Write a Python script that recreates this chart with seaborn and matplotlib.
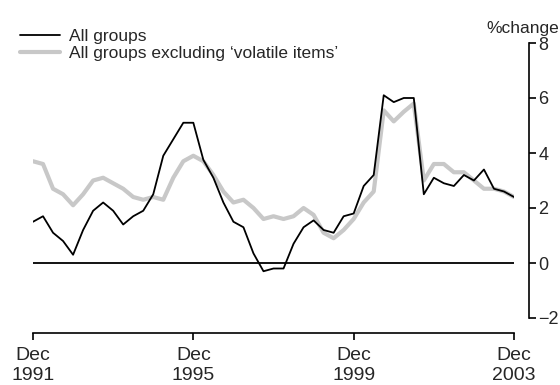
import pandas as pd
import matplotlib.pyplot as plt
import seaborn as sns

# quarterly % change, Dec 1991 .. Dec 2003
QUARTERS = pd.period_range("1991Q4", "2003Q4", freq="Q")
ALL_GROUPS = [1.5, 1.7, 1.1, 0.8, 0.3, 1.2, 1.9, 2.2, 1.9, 1.4, 1.7, 1.9, 2.5,
              3.9, 4.5, 5.1, 5.1, 3.75, 3.1, 2.2, 1.5, 1.3, 0.35, -0.3, -0.2,
              -0.2, 0.7, 1.3, 1.55, 1.2, 1.1, 1.7, 1.8, 2.8, 3.2, 6.1, 5.85,
              6.0, 6.0, 2.5, 3.1, 2.9, 2.8, 3.2, 3.0, 3.4, 2.7, 2.6, 2.4]
EXCL_VOLATILE = [3.7, 3.6, 2.7, 2.5, 2.1, 2.5, 3.0, 3.1, 2.9, 2.7, 2.4, 2.3, 2.4,
                 2.3, 3.1, 3.7, 3.9, 3.7, 3.2, 2.6, 2.2, 2.3, 2.0, 1.6, 1.7,
                 1.6, 1.7, 2.0, 1.75, 1.1, 0.9, 1.2, 1.6, 2.2, 2.6, 5.55, 5.15,
                 5.5, 5.8, 3.0, 3.6, 3.6, 3.3, 3.3, 3.0, 2.7, 2.7, 2.6, 2.4]
SERIES = ["All groups", "All groups excluding \u2018volatile items\u2019"]
PALETTE = {SERIES[0]: "black", SERIES[1]: "#c8c8c8"}
TICK_IDX = [0, 16, 32, 48]
TICK_LABELS = ["Dec\n1991", "Dec\n1995", "Dec\n1999", "Dec\n2003"]

df = pd.DataFrame({
    "q": list(range(len(QUARTERS))) * 2,
    "value": ALL_GROUPS + EXCL_VOLATILE,
    "series": [SERIES[0]] * len(QUARTERS) + [SERIES[1]] * len(QUARTERS),
})

sns.set_style("white")
plt.rcParams["font.family"] = ["Liberation Sans", "DejaVu Sans"]

fig = plt.figure(figsize=(5.6, 3.85), dpi=100)
ax = fig.add_axes([33 / 560, 67 / 385, 481 / 560, 275 / 385])

ax.axhline(0, color="black", lw=1.3, zorder=1)
sns.lineplot(data=df[df.series == SERIES[1]], x="q", y="value", color=PALETTE[SERIES[1]],
             lw=3, ax=ax, label=SERIES[1], zorder=2)
sns.lineplot(data=df[df.series == SERIES[0]], x="q", y="value", color=PALETTE[SERIES[0]],
             lw=1.3, ax=ax, label=SERIES[0], zorder=3)

ax.set_xlim(0, 48)
ax.set_ylim(-2, 8)
ax.set_xlabel("")
ax.set_ylabel("")

ax.yaxis.tick_right()
ax.tick_params(axis="both", direction="out", length=5, width=1.2, color="black",
               bottom=True, right=True, left=False, top=False)
ax.tick_params(axis="y", labelsize=13, pad=1.5)
ax.tick_params(axis="x", labelsize=14, pad=5)
ax.set_xticks(TICK_IDX)
ax.set_xticklabels(TICK_LABELS, fontsize=14, linespacing=1.1)
ax.set_yticks([-2, 0, 2, 4, 6, 8])

for s in ["top", "left"]:
    ax.spines[s].set_visible(False)
ax.spines["right"].set_position(("outward", 11))
ax.spines["bottom"].set_position(("outward", 11))
for s in ["right", "bottom"]:
    ax.spines[s].set_color("black")
    ax.spines[s].set_linewidth(1.2)

fig.text(559 / 560, 1 - 28 / 385, "%change", ha="right", va="center", fontsize=12.5)

h, l = ax.get_legend_handles_labels()
ax.legend(h[::-1], l[::-1], loc="upper left", bbox_to_anchor=(20 / 560, 1 - 29 / 385),
          bbox_transform=fig.transFigure, frameon=False, fontsize=12.5,
          handlelength=2.3, handletextpad=0.5, borderaxespad=0, borderpad=0,
          labelspacing=0.1)

fig.savefig("out.png", dpi=100)
